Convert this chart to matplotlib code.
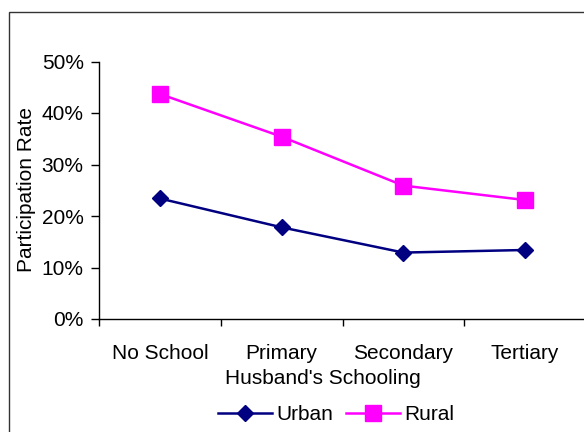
import matplotlib
matplotlib.use("Agg")
import matplotlib.pyplot as plt
from matplotlib.patches import Rectangle
from matplotlib.ticker import FuncFormatter, FixedLocator, NullFormatter

plt.rcParams["font.family"] = ["Liberation Sans", "DejaVu Sans"]

schooling = ["No School", "Primary", "Secondary", "Tertiary"]
urban = [0.234, 0.178, 0.129, 0.134]
rural = [0.437, 0.354, 0.259, 0.231]
y_ticks = [0.0, 0.1, 0.2, 0.3, 0.4, 0.5]

FS = 15

fig = plt.figure(figsize=(5.84, 4.32), dpi=100)

# outer chart border, runs off the right and bottom edges
fig.patches.append(Rectangle((9 / 584, -0.05), 1.1, 1 - 12 / 432 + 0.05,
                             transform=fig.transFigure, fill=False,
                             edgecolor="#333333", linewidth=1.0))

ax = fig.add_axes([99 / 584, 1 - 319 / 432, 487 / 584, 257.5 / 432])
xs = [i + 0.5 for i in range(len(schooling))]
ax.plot(xs, urban, color="#000080", lw=1.8, marker="D", ms=8, label="Urban")
ax.plot(xs, rural, color="#FF00FF", lw=1.8, marker="s", ms=11.5, label="Rural")

ax.set_xlim(0, len(schooling))
ax.set_ylim(0, 0.5)
ax.set_yticks(y_ticks)
ax.yaxis.set_major_formatter(FuncFormatter(lambda v, _: f"{v:.0%}"))
ax.xaxis.set_major_locator(FixedLocator(range(len(schooling) + 1)))
ax.xaxis.set_major_formatter(NullFormatter())
ax.xaxis.set_minor_locator(FixedLocator(xs))
ax.set_xticklabels(schooling, minor=True)
ax.tick_params(axis="x", which="minor", length=0, pad=18, labelsize=FS)
ax.tick_params(axis="x", which="major", length=5, width=1, direction="out")
ax.tick_params(axis="y", length=6, width=1, direction="out", pad=5, labelsize=FS)

for s in ("top", "right"):
    ax.spines[s].set_visible(False)
for s in ("left", "bottom"):
    ax.spines[s].set_linewidth(1.0)

fig.text(27 / 584, 1 - 190 / 432, "Participation Rate", rotation=90,
         ha="center", va="center", fontsize=FS)
fig.text(323 / 584, 1 - 379 / 432, "Husband's Schooling",
         ha="center", va="center", fontsize=FS)

fig.legend(loc="center", bbox_to_anchor=(336 / 584, 1 - 415 / 432), ncol=2,
           frameon=False, fontsize=FS, handlelength=2.6, columnspacing=0.6,
           handletextpad=0.2, borderpad=0)

fig.savefig("out.png", dpi=100)
